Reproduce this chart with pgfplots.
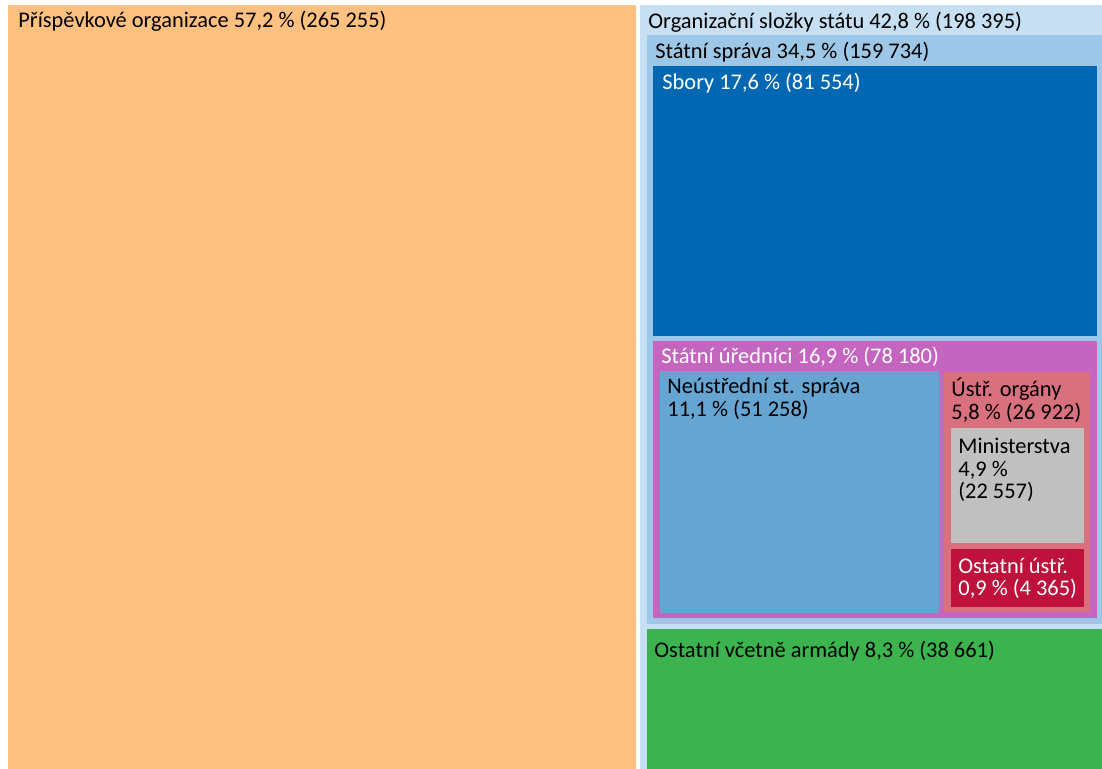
\documentclass[border=0pt]{standalone}
\usepackage{pgfplots}
\pgfplotsset{compat=1.18}
\usepackage{fontspec}
\setmainfont{Carlito}
\definecolor{cOrange}{HTML}{FFC080}
\definecolor{cOuter}{HTML}{C6DFF2}
\definecolor{cSprava}{HTML}{9DC7E7}
\definecolor{cSbory}{HTML}{0068B3}
\definecolor{cUred}{HTML}{C466BF}
\definecolor{cNeus}{HTML}{66A5D2}
\definecolor{cUstr}{HTML}{D9707E}
\definecolor{cMin}{HTML}{C0C0C0}
\definecolor{cOst}{HTML}{BE123C}
\definecolor{cGreen}{HTML}{3CB34E}
\begin{document}
\begin{tikzpicture}
\begin{axis}[
  width=551pt, height=384.5pt, scale only axis,
  xmin=0, xmax=1102, ymin=0, ymax=769, y dir=reverse,
  axis lines=none, clip=true,
  axis background/.style={fill=white},
]
% rectangles (x1,y1) to (x2,y2) in pixel units
\addplot[fill=cOrange, draw=none] coordinates {(8,5) (636,5) (636,769) (8,769)} -- cycle;
\addplot[fill=cOuter, draw=none] coordinates {(640,5) (1102,5) (1102,769) (640,769)} -- cycle;
\addplot[fill=cSprava, draw=none] coordinates {(647,35) (1102,35) (1102,624) (647,624)} -- cycle;
\addplot[fill=cSbory, draw=none] coordinates {(653,66) (1097,66) (1097,336) (653,336)} -- cycle;
\addplot[fill=cUred, draw=none] coordinates {(653,341) (1097,341) (1097,618) (653,618)} -- cycle;
\addplot[fill=cNeus, draw=none] coordinates {(660,371) (939,371) (939,613) (660,613)} -- cycle;
\addplot[fill=cUstr, draw=none] coordinates {(944,372) (1090,372) (1090,612) (944,612)} -- cycle;
\addplot[fill=cMin, draw=none] coordinates {(951,428) (1084,428) (1084,543) (951,543)} -- cycle;
\addplot[fill=cOst, draw=none] coordinates {(951,549) (1084,549) (1084,607) (951,607)} -- cycle;
\addplot[fill=cGreen, draw=none] coordinates {(647,629) (1102,629) (1102,769) (647,769)} -- cycle;
% labels
\tikzset{lbl/.style={anchor=base west, inner sep=0pt, font=\fontsize{11.2}{13}\selectfont}}
\node[lbl] at (axis cs:18,28) {Příspěvkové organizace 57,2 \% (265 255)};
\node[lbl] at (axis cs:648,29) {Organizační složky státu 42,8 \% (198 395)};
\node[lbl] at (axis cs:655,59) {Státní správa 34,5 \% (159 734)};
\node[lbl, text=white] at (axis cs:662,90) {Sbory 17,6 \% (81 554)};
\node[lbl, text=white] at (axis cs:661,364) {Státní úředníci 16,9 \% (78 180)};
\node[lbl] at (axis cs:667,394) {Neústřední st. správa};
\node[lbl] at (axis cs:667,417) {11,1 \% (51 258)};
\node[lbl] at (axis cs:951,397) {Ústř. orgány};
\node[lbl] at (axis cs:951,420) {5,8 \% (26 922)};
\node[lbl] at (axis cs:958,454) {Ministerstva};
\node[lbl] at (axis cs:958,477) {4,9 \%};
\node[lbl] at (axis cs:958,499) {(22 557)};
\node[lbl, text=white] at (axis cs:958,573) {Ostatní ústř.};
\node[lbl, text=white] at (axis cs:958,595) {0,9 \% (4 365)};
\node[lbl] at (axis cs:654,657) {Ostatní včetně armády 8,3 \% (38 661)};
\end{axis}
\end{tikzpicture}
\end{document}
